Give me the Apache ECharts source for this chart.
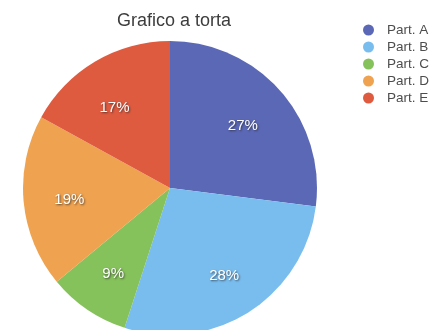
<!DOCTYPE html>
<html>
<head>
<meta charset="utf-8">
<script src="https://cdn.jsdelivr.net/npm/echarts@6/dist/echarts.min.js"></script>
<style>
  html, body { margin: 0; padding: 0; background: #ffffff; }
  #chart { width: 446px; height: 330px; }
</style>
</head>
<body>
<div id="chart"></div>
<script>
// Slice names, shares (percent) and colours
const categories = ['Part. A', 'Part. B', 'Part. C', 'Part. D', 'Part. E'];
const shares = [27, 28, 9, 19, 17];
const colors = ['#5b68b6', '#79bdef', '#86c25b', '#efa24f', '#df5b40'];

const pieData = categories.map((name, i) => ({
  name,
  value: shares[i],
  itemStyle: { color: colors[i] }
}));

const center = [170, 188];
const radius = 147;
const fontFamily = 'Liberation Sans, Arial, sans-serif';

// small nudges for the percentage labels of the upper slices
const labelNudge = { 0: [-3, 5], 4: [-4, 7] };

const chart = echarts.init(document.getElementById('chart'), null, { renderer: 'canvas' });
chart.setOption({
  animation: false,
  title: {
    text: 'Grafico a torta',
    left: 169,
    top: 7,
    textAlign: 'center',
    textStyle: {
      fontFamily,
      fontSize: 18,
      fontWeight: 'normal',
      color: '#3d3d3d'
    }
  },
  legend: {
    orient: 'vertical',
    left: 358,
    top: 18,
    icon: 'circle',
    itemWidth: 27,
    itemHeight: 11,
    itemGap: 3,
    textStyle: {
      fontFamily,
      fontSize: 13.5,
      color: '#4d4d4d'
    },
    data: categories
  },
  series: [
    {
      // the pie itself
      type: 'pie',
      center,
      radius: [0, radius],
      startAngle: 90,
      clockwise: true,
      silent: true,
      label: { show: false },
      labelLine: { show: false },
      data: pieData
    },
    {
      // transparent ring that places the percentage labels at about 2/3 of the radius
      type: 'pie',
      center,
      radius: [radius * 0.335, radius],
      startAngle: 90,
      clockwise: true,
      silent: true,
      itemStyle: { color: 'rgba(0,0,0,0)' },
      label: {
        show: true,
        position: 'inside',
        offset: [0, 2],
        formatter: p => p.value + '%',
        fontFamily,
        fontSize: 15,
        color: '#ffffff',
        textShadowColor: 'rgba(40,40,40,0.75)',
        textShadowBlur: 2,
        textShadowOffsetX: 1,
        textShadowOffsetY: 1
      },
      labelLine: { show: false },
      legendHoverLink: false,
      data: categories.map((name, i) => ({
        name,
        value: shares[i],
        label: labelNudge[i] ? { offset: labelNudge[i] } : undefined
      }))
    }
  ]
});
</script>
</body>
</html>
